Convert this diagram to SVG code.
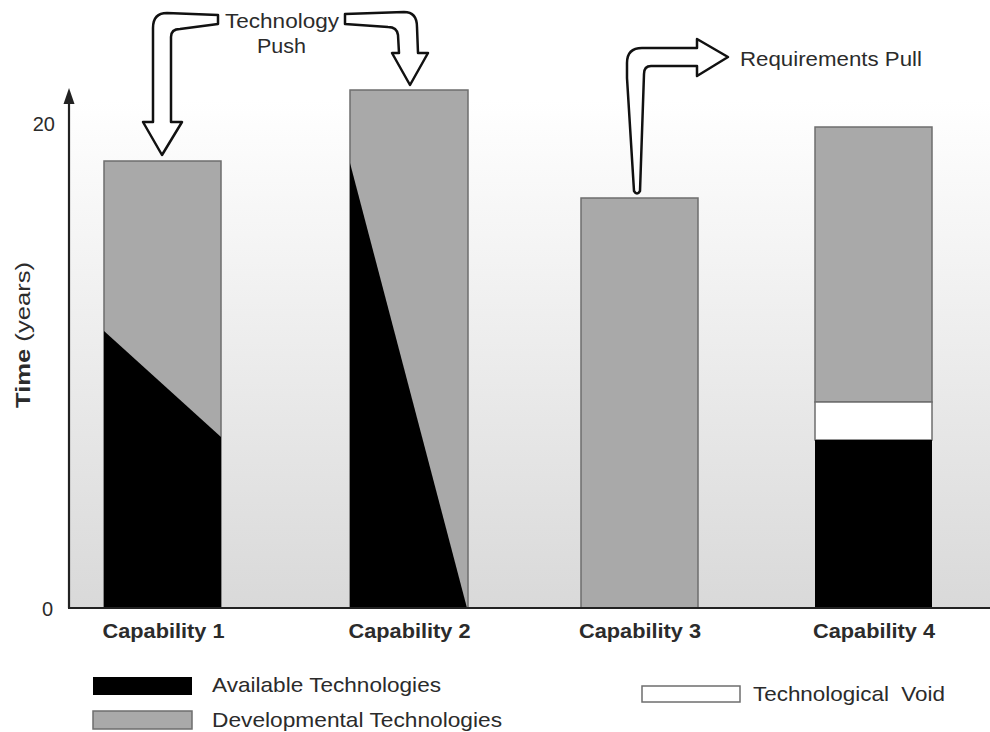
<svg xmlns="http://www.w3.org/2000/svg" width="990" height="732" viewBox="0 0 990 732">
  <defs>
    <linearGradient id="bg" x1="0" y1="100" x2="0" y2="608" gradientUnits="userSpaceOnUse">
      <stop offset="0" stop-color="#ffffff"/>
      <stop offset="1" stop-color="#d9d9d9"/>
    </linearGradient>
    <style>
      .txt { font-family: "Liberation Sans", Arial, sans-serif; fill: #2b2b2b; }
      .cap { font-family: "Liberation Sans", Arial, sans-serif; font-weight: bold; fill: #2b2b2b; font-size: 21px; text-anchor: middle; }
      .dev { fill: #a9a9a9; stroke: #6e6e6e; stroke-width: 1.5; }
      .avail { fill: #000000; }
      .void { fill: #ffffff; stroke: #6e6e6e; stroke-width: 1.5; }
      .axis { stroke: #222; stroke-width: 2.2; fill: none; }
      .bigarrow { fill: #ffffff; stroke: #111; stroke-width: 2.5; stroke-linejoin: round; }
    </style>
  </defs>

  <rect x="0" y="0" width="990" height="732" fill="#ffffff"/>
  <rect x="69" y="60" width="921" height="548" fill="url(#bg)"/>

  <g id="capability1">
    <rect class="dev" x="104" y="161" width="117" height="447"/>
    <polygon class="avail" points="104,331 221,437 221,608 104,608"/>
    <text class="cap" x="163.5" y="638" textLength="122" lengthAdjust="spacingAndGlyphs">Capability 1</text>
  </g>

  <g id="capability2">
    <rect class="dev" x="350" y="90" width="118" height="518"/>
    <polygon class="avail" points="350,163 467,608 350,608"/>
    <text class="cap" x="409.5" y="638" textLength="122" lengthAdjust="spacingAndGlyphs">Capability 2</text>
  </g>

  <g id="capability3">
    <rect class="dev" x="581" y="198" width="117" height="410"/>
    <text class="cap" x="640" y="638" textLength="122" lengthAdjust="spacingAndGlyphs">Capability 3</text>
  </g>

  <g id="capability4">
    <rect class="dev" x="815" y="127" width="117" height="275"/>
    <rect class="void" x="815" y="402" width="117" height="38"/>
    <rect class="avail" x="815" y="440" width="117" height="168"/>
    <text class="cap" x="874" y="638" textLength="122" lengthAdjust="spacingAndGlyphs">Capability 4</text>
  </g>

  <g id="axes">
    <line class="axis" x1="69" y1="608" x2="69" y2="100"/>
    <polygon points="69,88 63.5,104 74.5,104" fill="#222"/>
    <line class="axis" x1="68" y1="608" x2="990" y2="608"/>
    <text class="txt" x="55" y="131" font-size="20" text-anchor="end">20</text>
    <text class="txt" x="53" y="616" font-size="20" text-anchor="end">0</text>
    <text class="txt" transform="rotate(-90)" x="-335" y="30" font-size="21" text-anchor="middle" textLength="146" lengthAdjust="spacingAndGlyphs"><tspan font-weight="bold">Time</tspan> (years)</text>
  </g>

  <g id="connectors">
    <g id="technology-push">
      <path class="bigarrow" d="M218,15 L167,13 Q153,13 153,28 L153,122 L143,122 L162,155 L182,122 L171,122 L171,37 Q171,29 180,29 L218,24 Z"/>
      <path class="bigarrow" d="M345,14 L404,12 Q417,12 417,27 L418,53 L428,53 L410,85 L392,53 L399,53 L398,35 Q397,27 388,27 L345,24 Z"/>
      <text class="txt" x="282" y="28" font-size="20" text-anchor="middle" textLength="114" lengthAdjust="spacingAndGlyphs">Technology</text>
      <text class="txt" x="281.5" y="53" font-size="20" text-anchor="middle" textLength="49" lengthAdjust="spacingAndGlyphs">Push</text>
    </g>
    <g id="requirements-pull">
      <path class="bigarrow" d="M634,191 L627,78 L627,63 Q627,48 642,48 L697,48 L697,39 L728,57 L697,76 L697,66 L651,66 Q644,66 644,74 L640,191 Q637,196 634,191 Z"/>
      <text class="txt" x="740" y="66" font-size="20" textLength="182" lengthAdjust="spacingAndGlyphs">Requirements Pull</text>
    </g>
  </g>

  <g id="legend">
    <g id="legend-available">
      <rect x="93" y="677" width="99" height="18" fill="#000"/>
      <text class="txt" x="212" y="692" font-size="21" textLength="229" lengthAdjust="spacingAndGlyphs">Available Technologies</text>
    </g>
    <g id="legend-developmental">
      <rect class="dev" x="93" y="711" width="99" height="18"/>
      <text class="txt" x="212" y="727" font-size="21" textLength="290" lengthAdjust="spacingAndGlyphs">Developmental Technologies</text>
    </g>
    <g id="legend-void">
      <rect class="void" x="642" y="686" width="98" height="16"/>
      <text class="txt" x="753" y="701" font-size="21" textLength="192" lengthAdjust="spacingAndGlyphs" xml:space="preserve">Technological  Void</text>
    </g>
  </g>
</svg>
